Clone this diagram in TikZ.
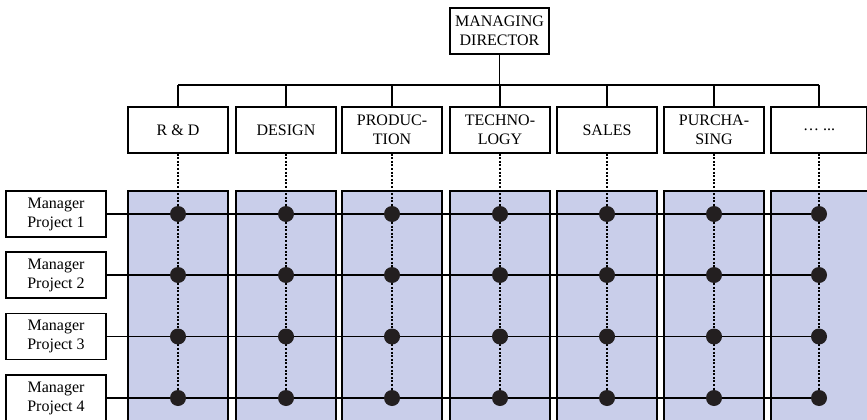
\documentclass[tikz,border=0pt]{standalone}
\usepackage{fontspec}
\setmainfont{Liberation Serif}
\usepackage{tikz}
\definecolor{colblue}{RGB}{201,206,234}
\definecolor{dotblack}{RGB}{35,31,32}
\tikzset{
  box/.style     = {draw,line width=1.1pt,fill=white,minimum height=46pt,inner sep=1pt,
                    align=center,font=\fontsize{16}{19}\selectfont},
  dept/.style    = {box,minimum width=100pt},
  manager/.style = {box,minimum width=100pt},
  column/.style  = {fill=colblue,draw=black,line width=1.1pt},
  link/.style    = {line width=1.1pt},
  dotline/.style = {line width=1.2pt,dash pattern=on 2pt off 1.6pt},
  joint/.style   = {fill=dotblack}
}
\begin{document}
\begin{tikzpicture}[x=1pt,y=-1pt]
  \clip (0,0) rectangle (867,420);
  % blue project columns
  \foreach \l/\r in {128/228,236/336,342/442,450/550,557/657,664/764,771/900}
    \draw[column] (\l,191) rectangle (\r,440);
  % top of the hierarchy
  \node[box,minimum width=99pt] (md) at (499.5,31) {MANAGING\\DIRECTOR};
  \foreach \cx/\w/\txt [count=\i] in {178/100/{R \& D},286/100/DESIGN,
      392/100/{PRODUC-\\TION},500/100/{TECHNO-\\LOGY},607/100/SALES,
      714/100/{PURCHA-\\SING},819/96/{…\ ...}}
    \node[dept,minimum width=\w] (d\i) at (\cx,130) {\txt};
  \coordinate (bar) at (0,85);
  \draw[link] (md.south) -- (md.south |- bar);
  \draw[link] (d1.north |- bar) -- (d7.north |- bar);
  \foreach \i in {1,...,7}
    \draw[link] (d\i.north |- bar) -- (d\i.north);
  % project managers
  \foreach \y [count=\j] in {214,275,336.5,398}
    \node[manager] (m\j) at (56,\y) {Manager\\Project \j};
  \foreach \i in {1,...,7}
    \draw[dotline] (d\i.south) -- (d\i.south |- m4.east);
  \foreach \j in {1,...,4}{
    \draw[link] (m\j.east) -- (d7.south |- m\j.east);
    \foreach \i in {1,...,7}
      \fill[joint] (d\i.south |- m\j.east) circle (8);
  }
\end{tikzpicture}
\end{document}
